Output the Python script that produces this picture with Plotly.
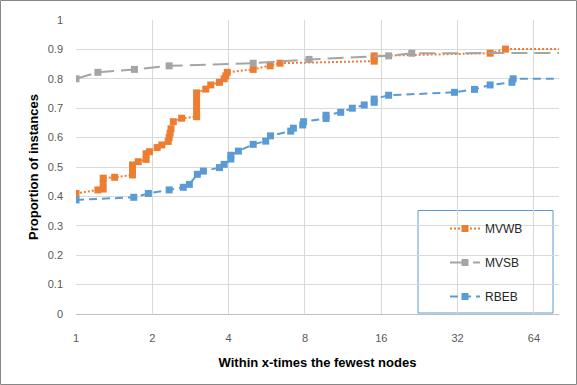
import plotly.graph_objs as go

# values (x = times the fewest nodes, y = proportion)
mvwb_x = [1.00, 1.22, 1.28, 1.28, 1.28, 1.42, 1.67, 1.67, 1.67, 1.76, 1.89, 1.89, 1.95,
          2.09, 2.18, 2.31, 2.33, 2.35, 2.37, 2.42, 2.61, 2.99, 2.99, 2.99, 2.99, 2.99,
          3.25, 3.40, 3.68, 3.84, 3.90, 3.95, 5.0, 5.83, 6.38, 15.0, 15.0, 15.0,
          43.0, 49.4, 1000]
mvwb_y = [0.410, 0.422, 0.425, 0.445, 0.462, 0.465, 0.473, 0.490, 0.507, 0.518, 0.526, 0.545, 0.552,
          0.566, 0.575, 0.587, 0.600, 0.615, 0.630, 0.654, 0.666, 0.671, 0.690, 0.710, 0.730, 0.752,
          0.765, 0.779, 0.788, 0.800, 0.810, 0.822, 0.832, 0.844, 0.853, 0.860, 0.870, 0.878,
          0.887, 0.901, 0.901]

mvsb_x = [1.00, 1.22, 1.70, 2.33, 5.0, 8.3, 17.1, 21.1, 1000]
mvsb_y = [0.800, 0.822, 0.832, 0.844, 0.853, 0.866, 0.878, 0.887, 0.889]

rbeb_x = [1.00, 1.69, 1.93, 2.33, 2.65, 2.80, 3.01, 3.18, 3.68, 3.84, 4.08, 4.08, 4.37,
          5.0, 5.6, 5.85, 7.03, 7.2, 7.84, 7.9, 9.69, 9.69, 11.07, 12.3, 13.7, 15.0, 15.0,
          17.1, 31.1, 37.3, 43.0, 52.4, 53.0, 1000]
rbeb_y = [0.388, 0.397, 0.410, 0.422, 0.431, 0.441, 0.475, 0.486, 0.498, 0.509, 0.527, 0.540, 0.554,
          0.577, 0.588, 0.606, 0.622, 0.632, 0.643, 0.654, 0.665, 0.676, 0.686, 0.700, 0.711, 0.720, 0.731,
          0.744, 0.754, 0.764, 0.779, 0.788, 0.800, 0.800]

x_ticks = [1, 2, 4, 8, 16, 32, 64]

W, H = 577, 385
L, R, T, B = 76, 18, 20, 71
pw, ph = W - L - R, H - T - B

fig = go.Figure()
fig.add_trace(go.Scatter(x=mvwb_x, y=mvwb_y, name="MVWB", mode="lines+markers", legendgroup="a",
                         line=dict(color="#ED7D31", width=2, dash="2px,2px"),
                         marker=dict(symbol="square", size=7, color="#ED7D31")))
fig.add_trace(go.Scatter(x=mvsb_x, y=mvsb_y, name="MVSB", mode="lines+markers", legendgroup="b",
                         line=dict(color="#A5A5A5", width=2, dash="16px,7px"),
                         marker=dict(symbol="square", size=7, color="#A5A5A5")))
fig.add_trace(go.Scatter(x=rbeb_x, y=rbeb_y, name="RBEB", mode="lines+markers", legendgroup="c",
                         line=dict(color="#5B9BD5", width=2, dash="8px,5px"),
                         marker=dict(symbol="square", size=7, color="#5B9BD5")))

# legend box and outer chart border
fig.add_shape(type="rect", xref="paper", yref="paper", layer="between",
              x0=(418 - L) / pw, x1=(553 - L) / pw,
              y0=(H - B - 313) / ph, y1=(H - B - 210.5) / ph,
              line=dict(color="#5B9BD5", width=1), fillcolor="white")
fig.add_shape(type="rect", xref="paper", yref="paper", layer="above",
              x0=(0.5 - L) / pw, x1=(W - 0.5 - L) / pw,
              y0=-(B - 0.5) / ph, y1=1 + (T - 0.5) / ph,
              line=dict(color="#878787", width=1))

fig.update_layout(
    width=W, height=H, margin=dict(l=L, r=R, t=T, b=B),
    paper_bgcolor="white", plot_bgcolor="white",
    font=dict(family="Liberation Sans", size=11, color="#595959"),
    showlegend=True,
    legend=dict(x=(445 - L) / pw, y=(H - B - 214) / ph, xanchor="left", yanchor="top",
                bgcolor="rgba(0,0,0,0)", borderwidth=0, tracegroupgap=15,
                font=dict(size=12, color="#262626")),
    xaxis=dict(type="log", range=[0, 1.905], tickvals=x_ticks, ticktext=[str(t) for t in x_ticks],
               showgrid=True, gridcolor="#D9D9D9", zeroline=False,
               showline=True, linecolor="#BFBFBF", ticks="", ticklabelstandoff=14,
               title=dict(text="<b>Within x-times the fewest nodes</b>", standoff=14,
                          font=dict(size=13, color="black"))),
    yaxis=dict(range=[0, 1], dtick=0.1, showgrid=True, gridcolor="#D9D9D9", zeroline=False,
               showline=False, ticks="", ticklabelstandoff=12,
               title=dict(text="<b>Proportion of instances</b>", standoff=6,
                          font=dict(size=13, color="black"))),
)

fig.write_html("out.html", config={"displayModeBar": False},
               post_script="document.body.style.margin='0';")
